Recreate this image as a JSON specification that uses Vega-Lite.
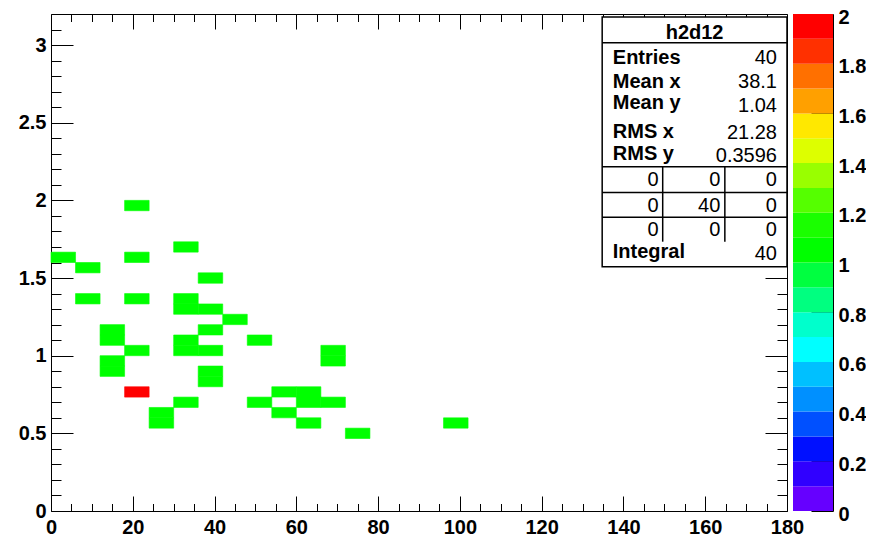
{
  "$schema": "https://vega.github.io/schema/vega-lite/v6.json",
  "padding": {"left": 5, "top": 7, "right": 0, "bottom": 0},
  "background": "white",
  "spacing": 6,
  "bounds": "flush",
  "config": {
    "view": {"stroke": "#000", "strokeWidth": 1},
    "axis": {"grid": false, "domain": false, "tickColor": "#000", "tickWidth": 1, "labelFont": "Liberation Sans", "labelFontSize": 20, "labelFontWeight": "bold", "labelColor": "#000", "labelFlush": false, "labelOverlap": false}
  },
  "datasets": {
    "cells": [
      {"x0": 18, "x1": 24, "y0": 1.9333, "y1": 2.0, "n": 1},
      {"x0": 30, "x1": 36, "y0": 1.6667, "y1": 1.7333, "n": 1},
      {"x0": 0, "x1": 6, "y0": 1.6, "y1": 1.6667, "n": 1},
      {"x0": 18, "x1": 24, "y0": 1.6, "y1": 1.6667, "n": 1},
      {"x0": 6, "x1": 12, "y0": 1.5333, "y1": 1.6, "n": 1},
      {"x0": 36, "x1": 42, "y0": 1.4667, "y1": 1.5333, "n": 1},
      {"x0": 6, "x1": 12, "y0": 1.3333, "y1": 1.4, "n": 1},
      {"x0": 18, "x1": 24, "y0": 1.3333, "y1": 1.4, "n": 1},
      {"x0": 30, "x1": 36, "y0": 1.3333, "y1": 1.4, "n": 1},
      {"x0": 30, "x1": 36, "y0": 1.2667, "y1": 1.3333, "n": 1},
      {"x0": 36, "x1": 42, "y0": 1.2667, "y1": 1.3333, "n": 1},
      {"x0": 42, "x1": 48, "y0": 1.2, "y1": 1.2667, "n": 1},
      {"x0": 12, "x1": 18, "y0": 1.1333, "y1": 1.2, "n": 1},
      {"x0": 12, "x1": 18, "y0": 1.0667, "y1": 1.1333, "n": 1},
      {"x0": 36, "x1": 42, "y0": 1.1333, "y1": 1.2, "n": 1},
      {"x0": 30, "x1": 36, "y0": 1.0667, "y1": 1.1333, "n": 1},
      {"x0": 30, "x1": 36, "y0": 1.0, "y1": 1.0667, "n": 1},
      {"x0": 36, "x1": 42, "y0": 1.0, "y1": 1.0667, "n": 1},
      {"x0": 48, "x1": 54, "y0": 1.0667, "y1": 1.1333, "n": 1},
      {"x0": 18, "x1": 24, "y0": 1.0, "y1": 1.0667, "n": 1},
      {"x0": 66, "x1": 72, "y0": 1.0, "y1": 1.0667, "n": 1},
      {"x0": 66, "x1": 72, "y0": 0.9333, "y1": 1.0, "n": 1},
      {"x0": 12, "x1": 18, "y0": 0.9333, "y1": 1.0, "n": 1},
      {"x0": 12, "x1": 18, "y0": 0.8667, "y1": 0.9333, "n": 1},
      {"x0": 36, "x1": 42, "y0": 0.8667, "y1": 0.9333, "n": 1},
      {"x0": 36, "x1": 42, "y0": 0.8, "y1": 0.8667, "n": 1},
      {"x0": 18, "x1": 24, "y0": 0.7333, "y1": 0.8, "n": 2},
      {"x0": 54, "x1": 60, "y0": 0.7333, "y1": 0.8, "n": 1},
      {"x0": 60, "x1": 66, "y0": 0.7333, "y1": 0.8, "n": 1},
      {"x0": 30, "x1": 36, "y0": 0.6667, "y1": 0.7333, "n": 1},
      {"x0": 48, "x1": 54, "y0": 0.6667, "y1": 0.7333, "n": 1},
      {"x0": 60, "x1": 66, "y0": 0.6667, "y1": 0.7333, "n": 1},
      {"x0": 66, "x1": 72, "y0": 0.6667, "y1": 0.7333, "n": 1},
      {"x0": 24, "x1": 30, "y0": 0.6, "y1": 0.6667, "n": 1},
      {"x0": 24, "x1": 30, "y0": 0.5333, "y1": 0.6, "n": 1},
      {"x0": 54, "x1": 60, "y0": 0.6, "y1": 0.6667, "n": 1},
      {"x0": 60, "x1": 66, "y0": 0.5333, "y1": 0.6, "n": 1},
      {"x0": 72, "x1": 78, "y0": 0.4667, "y1": 0.5333, "n": 1},
      {"x0": 96, "x1": 102, "y0": 0.5333, "y1": 0.6, "n": 1}
    ],
    "palette": [
      {"v0": 0, "v1": 0.1}, {"v0": 0.1, "v1": 0.2}, {"v0": 0.2, "v1": 0.3}, {"v0": 0.3, "v1": 0.4},
      {"v0": 0.4, "v1": 0.5}, {"v0": 0.5, "v1": 0.6}, {"v0": 0.6, "v1": 0.7}, {"v0": 0.7, "v1": 0.8},
      {"v0": 0.8, "v1": 0.9}, {"v0": 0.9, "v1": 1.0}, {"v0": 1.0, "v1": 1.1}, {"v0": 1.1, "v1": 1.2},
      {"v0": 1.2, "v1": 1.3}, {"v0": 1.3, "v1": 1.4}, {"v0": 1.4, "v1": 1.5}, {"v0": 1.5, "v1": 1.6},
      {"v0": 1.6, "v1": 1.7}, {"v0": 1.7, "v1": 1.8}, {"v0": 1.8, "v1": 1.9}, {"v0": 1.9, "v1": 2.0}
    ],
    "statsBox": [{"x0": 134.8, "x1": 180, "y0": 1.573, "y1": 3.18}],
    "statsLines": [
      {"x0": 134.8, "x1": 180, "y0": 3.015, "y1": 3.015},
      {"x0": 134.8, "x1": 180, "y0": 2.217, "y1": 2.217},
      {"x0": 134.8, "x1": 180, "y0": 2.05, "y1": 2.05},
      {"x0": 134.8, "x1": 180, "y0": 1.891, "y1": 1.891},
      {"x0": 149.6, "x1": 149.6, "y0": 2.217, "y1": 1.734},
      {"x0": 164.8, "x1": 164.8, "y0": 2.217, "y1": 1.734}
    ],
    "statsTitle": [{"t": "h2d12", "x": 157.4, "y": 3.08}],
    "statsLabels": [
      {"t": "Entries", "x": 137.4, "y": 2.915},
      {"t": "Mean x", "x": 137.4, "y": 2.764},
      {"t": "Mean y", "x": 137.4, "y": 2.627},
      {"t": "RMS x", "x": 137.4, "y": 2.44},
      {"t": "RMS y", "x": 137.4, "y": 2.299},
      {"t": "Integral", "x": 137.4, "y": 1.666}
    ],
    "statsValues": [
      {"t": "40", "x": 177.55, "y": 2.915},
      {"t": "38.1", "x": 177.55, "y": 2.764},
      {"t": "1.04", "x": 177.55, "y": 2.608},
      {"t": "21.28", "x": 177.55, "y": 2.434},
      {"t": "0.3596", "x": 177.55, "y": 2.287},
      {"t": "0", "x": 148.6, "y": 2.129},
      {"t": "0", "x": 163.7, "y": 2.129},
      {"t": "0", "x": 177.55, "y": 2.129},
      {"t": "0", "x": 148.6, "y": 1.962},
      {"t": "40", "x": 163.7, "y": 1.962},
      {"t": "0", "x": 177.55, "y": 1.962},
      {"t": "0", "x": 148.6, "y": 1.809},
      {"t": "0", "x": 163.7, "y": 1.809},
      {"t": "0", "x": 177.55, "y": 1.809},
      {"t": "40", "x": 177.55, "y": 1.655}
    ]
  },
  "hconcat": [
    {
      "width": 736,
      "height": 497,
      "resolve": {"axis": {"x": "independent", "y": "independent"}},
      "layer": [
        {
          "data": {"name": "cells"},
          "mark": {"type": "rect", "strokeWidth": 0.6},
          "encoding": {
            "x": {"field": "x0", "type": "quantitative", "scale": {"domain": [0, 180], "nice": false, "zero": false},
              "axis": {"orient": "bottom", "title": null, "values": [0, 20, 40, 60, 80, 100, 120, 140, 160, 180], "format": "d", "tickSize": -15, "labelPadding": 21}},
            "x2": {"field": "x1"},
            "y": {"field": "y0", "type": "quantitative", "scale": {"domain": [0, 3.2], "nice": false, "zero": false},
              "axis": {"orient": "left", "title": null, "values": [0, 0.5, 1, 1.5, 2, 2.5, 3], "format": "~g", "tickSize": -22, "labelPadding": 27, "minExtent": 45, "maxExtent": 45}},
            "y2": {"field": "y1"},
            "color": {"field": "n", "type": "quantitative", "legend": null,
              "scale": {"type": "threshold", "domain": [0.1, 0.2, 0.3, 0.4, 0.5, 0.6, 0.7, 0.8, 0.9, 1.0, 1.1, 1.2, 1.3, 1.4, 1.5, 1.6, 1.7, 1.8, 1.9],
                "range": ["#6600ff", "#3000ff", "#0010ff", "#0050ff", "#0090ff", "#00c0ff", "#00ffff", "#00ffcc", "#00ff80", "#00ff40", "#00ff00", "#1aff00", "#55ff00", "#99ff00", "#ddff00", "#ffe800", "#ffa000", "#ff7000", "#ff3000", "#ff0000"]}},
            "stroke": {"field": "n", "type": "quantitative", "legend": null,
              "scale": {"type": "threshold", "domain": [0.1, 0.2, 0.3, 0.4, 0.5, 0.6, 0.7, 0.8, 0.9, 1.0, 1.1, 1.2, 1.3, 1.4, 1.5, 1.6, 1.7, 1.8, 1.9],
                "range": ["#6600ff", "#3000ff", "#0010ff", "#0050ff", "#0090ff", "#00c0ff", "#00ffff", "#00ffcc", "#00ff80", "#00ff40", "#00ff00", "#1aff00", "#55ff00", "#99ff00", "#ddff00", "#ffe800", "#ffa000", "#ff7000", "#ff3000", "#ff0000"]}}
          }
        },
        {
          "data": {"name": "statsBox"},
          "mark": {"type": "rect", "fill": "white", "stroke": "#000", "strokeWidth": 1.5},
          "encoding": {
            "x": {"field": "x0", "type": "quantitative", "scale": {"domain": [0, 180], "nice": false, "zero": false},
              "axis": {"orient": "bottom", "title": null, "labels": false, "values": [5, 10, 15, 25, 30, 35, 45, 50, 55, 65, 70, 75, 85, 90, 95, 105, 110, 115, 125, 130, 135, 145, 150, 155, 165, 170, 175], "tickSize": -7.5}},
            "x2": {"field": "x1"},
            "y": {"field": "y0", "type": "quantitative", "scale": {"domain": [0, 3.2], "nice": false, "zero": false},
              "axis": {"orient": "left", "title": null, "labels": false, "values": [0.1, 0.2, 0.3, 0.4, 0.6, 0.7, 0.8, 0.9, 1.1, 1.2, 1.3, 1.4, 1.6, 1.7, 1.8, 1.9, 2.1, 2.2, 2.3, 2.4, 2.6, 2.7, 2.8, 2.9, 3.1], "tickSize": -10}},
            "y2": {"field": "y1"}
          }
        },
        {
          "data": {"name": "statsLines"},
          "mark": {"type": "rule", "color": "#000", "strokeWidth": 1.5},
          "encoding": {
            "x": {"field": "x0", "type": "quantitative", "scale": {"domain": [0, 180], "nice": false, "zero": false},
              "axis": {"orient": "top", "title": null, "labels": false, "values": [0, 20, 40, 60, 80, 100, 120, 140, 160, 180], "tickSize": -15}},
            "x2": {"field": "x1"},
            "y": {"field": "y0", "type": "quantitative", "scale": {"domain": [0, 3.2], "nice": false, "zero": false},
              "axis": {"orient": "right", "title": null, "labels": false, "values": [0, 0.5, 1, 1.5, 2, 2.5, 3], "tickSize": -22}},
            "y2": {"field": "y1"}
          }
        },
        {
          "data": {"name": "statsLabels"},
          "mark": {"type": "text", "align": "left", "baseline": "middle", "font": "Liberation Sans", "fontSize": 20, "fontWeight": "bold", "color": "#000"},
          "encoding": {
            "x": {"field": "x", "type": "quantitative", "scale": {"domain": [0, 180], "nice": false, "zero": false},
              "axis": {"orient": "top", "title": null, "labels": false, "values": [5, 10, 15, 25, 30, 35, 45, 50, 55, 65, 70, 75, 85, 90, 95, 105, 110, 115, 125, 130, 135, 145, 150, 155, 165, 170, 175], "tickSize": -7.5}},
            "y": {"field": "y", "type": "quantitative", "scale": {"domain": [0, 3.2], "nice": false, "zero": false},
              "axis": {"orient": "right", "title": null, "labels": false, "values": [0.1, 0.2, 0.3, 0.4, 0.6, 0.7, 0.8, 0.9, 1.1, 1.2, 1.3, 1.4, 1.6, 1.7, 1.8, 1.9, 2.1, 2.2, 2.3, 2.4, 2.6, 2.7, 2.8, 2.9, 3.1], "tickSize": -10}},
            "text": {"field": "t"}
          }
        },
        {
          "data": {"name": "statsValues"},
          "mark": {"type": "text", "align": "right", "baseline": "middle", "font": "Liberation Sans", "fontSize": 20, "color": "#000"},
          "encoding": {
            "x": {"field": "x", "type": "quantitative", "scale": {"domain": [0, 180], "nice": false, "zero": false}, "axis": null},
            "y": {"field": "y", "type": "quantitative", "scale": {"domain": [0, 3.2], "nice": false, "zero": false}, "axis": null},
            "text": {"field": "t"}
          }
        },
        {
          "data": {"name": "statsTitle"},
          "mark": {"type": "text", "align": "center", "baseline": "middle", "font": "Liberation Sans", "fontSize": 20, "fontWeight": "bold", "color": "#000"},
          "encoding": {
            "x": {"field": "x", "type": "quantitative", "scale": {"domain": [0, 180], "nice": false, "zero": false}, "axis": null},
            "y": {"field": "y", "type": "quantitative", "scale": {"domain": [0, 3.2], "nice": false, "zero": false}, "axis": null},
            "text": {"field": "t"}
          }
        }
      ]
    },
    {
      "width": 40,
      "height": 497,
      "view": {"stroke": null},
      "data": {"name": "palette"},
      "mark": {"type": "rect"},
      "encoding": {
        "y": {"field": "v0", "type": "quantitative", "scale": {"domain": [0, 2], "nice": false, "zero": false},
          "axis": {"orient": "right", "title": null, "values": [0, 0.2, 0.4, 0.6, 0.8, 1, 1.2, 1.4, 1.6, 1.8, 2], "format": "~g", "tickSize": -22, "labelPadding": 27, "labelOffset": 3, "domain": true, "domainColor": "#000", "domainWidth": 1}},
        "y2": {"field": "v1"},
        "color": {"field": "v0", "type": "quantitative", "legend": null,
          "scale": {"type": "threshold", "domain": [0.1, 0.2, 0.3, 0.4, 0.5, 0.6, 0.7, 0.8, 0.9, 1.0, 1.1, 1.2, 1.3, 1.4, 1.5, 1.6, 1.7, 1.8, 1.9],
            "range": ["#6600ff", "#3000ff", "#0010ff", "#0050ff", "#0090ff", "#00c0ff", "#00ffff", "#00ffcc", "#00ff80", "#00ff40", "#00ff00", "#1aff00", "#55ff00", "#99ff00", "#ddff00", "#ffe800", "#ffa000", "#ff7000", "#ff3000", "#ff0000"]}}
      }
    }
  ]
}
